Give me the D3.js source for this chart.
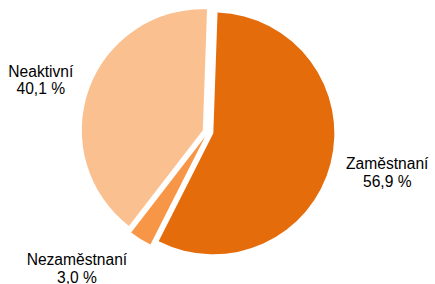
<!DOCTYPE html>
<html>
<head>
<meta charset="utf-8">
<script src="https://cdn.jsdelivr.net/npm/d3@7"></script>
<style>
  html, body { margin: 0; padding: 0; background: #fff; }
  svg { display: block; }
  .lbl { font-family: "Liberation Sans", Arial, sans-serif; font-size: 15.6px; fill: #000; }
</style>
</head>
<body>
<svg id="chart" width="435" height="284"></svg>
<script>
// ── Data ──────────────────────────────────────────────────────────
const categories  = ['Zaměstnaní', 'Nezaměstnaní', 'Neaktivní'];
const values      = [56.9, 3.0, 40.1];
const valueLabels = ['56,9 %', '3,0 %', '40,1 %'];

// Slice colours (same order as categories)
const COLORS = ['#E46C0A', '#F79646', '#FAC090'];

// Layout
const W = 435, H = 284;
const CX = 208, CY = 132;
const R = 121;
const EXPLODE = 5.5;
const START = 2 * Math.PI / 180;   // pie is rotated a touch clockwise
const LABEL_R = 182;
// per-label nudges so labels sit where the original put them
const LABEL_NUDGE = [[3, -4.5], [-34, -17], [4, 10]];
const LINE_H = 17.4;

const rows = categories.map((c, i) => ({ name: c, value: values[i], text: valueLabels[i], color: COLORS[i], i }));

const svg = d3.select('#chart');
const g = svg.append('g').attr('transform', `translate(${CX},${CY})`);

const pie = d3.pie()
  .sort(null)
  .value(d => d.value)
  .startAngle(START)
  .endAngle(START + 2 * Math.PI);

const arc = d3.arc().innerRadius(0).outerRadius(R);
const labelArc = d3.arc().innerRadius(LABEL_R).outerRadius(LABEL_R);

const arcs = pie(rows);

function offset(d, dist) {
  const a = (d.startAngle + d.endAngle) / 2;
  return [Math.sin(a) * dist, -Math.cos(a) * dist];
}

// ── Slices ────────────────────────────────────────────────────────
g.selectAll('.slice')
  .data(arcs)
  .join('path')
    .attr('class', 'slice')
    .attr('d', arc)
    .attr('fill', d => d.data.color)
    .attr('transform', d => {
      const [dx, dy] = offset(d, EXPLODE);
      return `translate(${dx},${dy})`;
    });

// ── Labels ────────────────────────────────────────────────────────
const labels = g.selectAll('.lbl')
  .data(arcs)
  .join('text')
    .attr('class', 'lbl')
    .attr('text-anchor', 'middle')
    .attr('transform', d => {
      const [x, y] = labelArc.centroid(d);
      const [nx, ny] = LABEL_NUDGE[d.data.i];
      return `translate(${x + nx},${y + ny})`;
    });

labels.append('tspan')
  .attr('x', 0)
  .attr('dy', -LINE_H / 2 + 5)
  .text(d => d.data.name);

labels.append('tspan')
  .attr('x', 0)
  .attr('dy', LINE_H)
  .text(d => d.data.text);
</script>
</body>
</html>
